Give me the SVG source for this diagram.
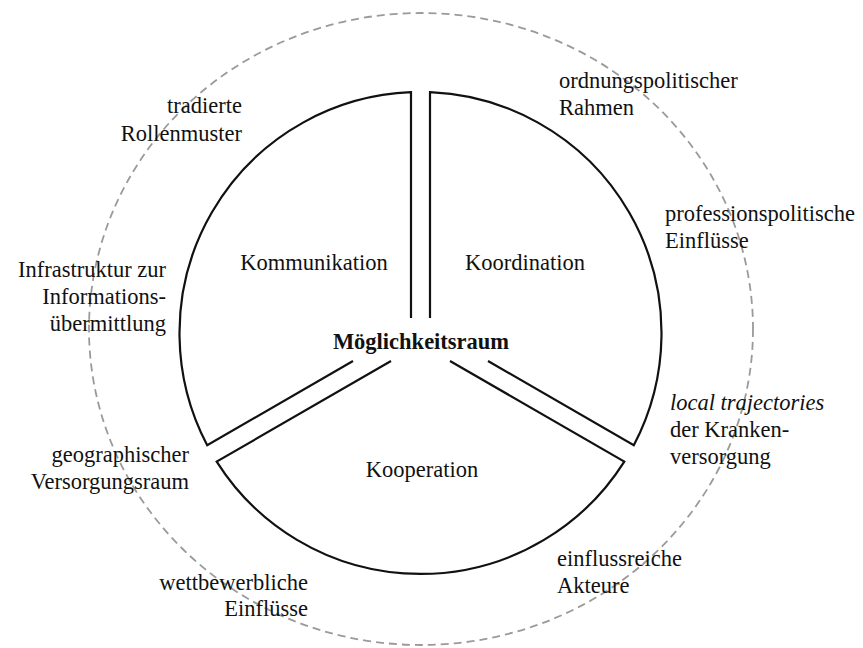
<svg xmlns="http://www.w3.org/2000/svg" width="863" height="648" viewBox="0 0 863 648">
<style>
  text { font-family: "Liberation Serif", "Times New Roman", serif; font-size: 22.5px; fill: #111; }
  .end { text-anchor: end; }
  .mid { text-anchor: middle; }
  .bold { font-weight: bold; }
  .it { font-style: italic; }
  .sector { fill: none; stroke: #111; stroke-width: 2.2; stroke-linejoin: miter; }
  .outer { fill: none; stroke: #9a9a9a; stroke-width: 1.8; stroke-dasharray: 8 5; }
</style>
<rect width="863" height="648" fill="#fff"/>
<g id="outer-space">
  <ellipse class="outer" cx="421" cy="329" rx="332" ry="316"/>
</g>
<g id="connectors"></g>
<g id="kommunikation">
  <path class="sector" d="M 411,318 L 411,92.2 A 241 241 0 0 0 207.2,445.2 L 353,361"/>
  <text class="mid" x="314" y="270">Kommunikation</text>
</g>
<g id="koordination">
  <path class="sector" d="M 430,318 L 430,92.2 A 241 241 0 0 1 633.8,445.2 L 488,361"/>
  <text class="mid" x="525" y="270">Koordination</text>
</g>
<g id="kooperation">
  <path class="sector" d="M 391,361 L 216.7,461.6 A 241 241 0 0 0 624.3,461.6 L 450,361"/>
  <text class="mid" x="422" y="477">Kooperation</text>
</g>
<g id="moeglichkeitsraum">
  <text class="mid bold" x="421" y="349">Möglichkeitsraum</text>
</g>
<g id="tradierte-rollenmuster">
  <text class="end" x="242" y="113">tradierte</text>
  <text class="end" x="242" y="141">Rollenmuster</text>
</g>
<g id="infrastruktur">
  <text class="end" x="166" y="277">Infrastruktur zur</text>
  <text class="end" x="166" y="304">Informations-</text>
  <text class="end" x="166" y="331">übermittlung</text>
</g>
<g id="geographischer-versorgungsraum">
  <text class="end" x="189" y="462">geographischer</text>
  <text class="end" x="189" y="489">Versorgungsraum</text>
</g>
<g id="wettbewerbliche-einfluesse">
  <text class="end" x="308" y="590">wettbewerbliche</text>
  <text class="end" x="308" y="616">Einflüsse</text>
</g>
<g id="einflussreiche-akteure">
  <text x="557" y="566">einflussreiche</text>
  <text x="557" y="593">Akteure</text>
</g>
<g id="local-trajectories">
  <text class="it" x="670" y="410">local trajectories</text>
  <text x="670" y="437">der Kranken-</text>
  <text x="670" y="464">versorgung</text>
</g>
<g id="ordnungspolitischer-rahmen">
  <text x="559" y="88">ordnungspolitischer</text>
  <text x="559" y="115">Rahmen</text>
</g>
<g id="professionspolitische-einfluesse">
  <text x="665" y="221">professionspolitische</text>
  <text x="665" y="248">Einflüsse</text>
</g>
</svg>
